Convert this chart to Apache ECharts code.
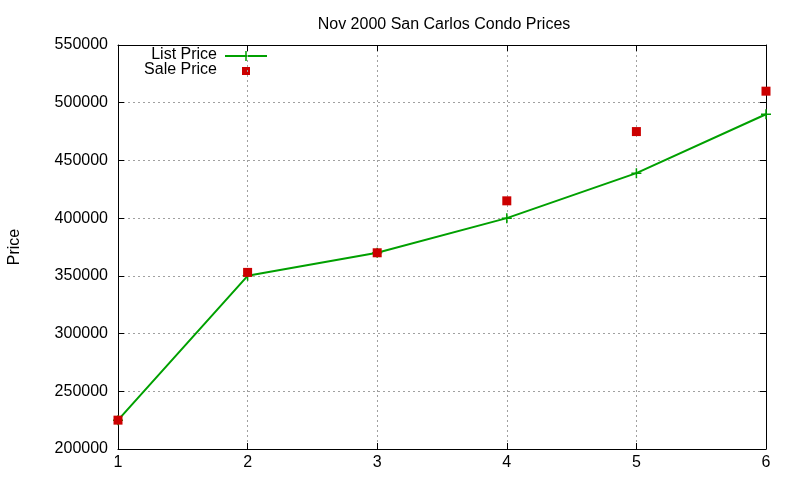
<!DOCTYPE html>
<html>
<head>
<meta charset="utf-8">
<script src="https://cdn.jsdelivr.net/npm/echarts@6/dist/echarts.min.js"></script>
<style>
  html, body { margin: 0; padding: 0; background: #fff; }
  #chart { width: 800px; height: 480px; }
</style>
</head>
<body>
<div id="chart"></div>
<script>
// data
var months = [1, 2, 3, 4, 5, 6];
var listPrice = [225000, 350000, 370000, 400000, 439000, 490000];
var salePrice = [225000, 353000, 370000, 415000, 475000, 510000];
var yTicks = [200000, 250000, 300000, 350000, 400000, 450000, 500000, 550000];

var green = '#00a000';
var red = '#cc0000';
var font = 'Liberation Sans, Arial, sans-serif';

var listData = months.map(function (m, i) { return [m, listPrice[i]]; });
var saleData = months.map(function (m, i) { return [m, salePrice[i]]; });

var plusSymbol = 'path://M0,4.25h10v1.5H0zM4.25,0h1.5v10h-1.5z';

var gridLine = { show: true, lineStyle: { color: '#a0a0a0', type: [2, 3], width: 1 } };
var axisLine = { show: true, lineStyle: { color: '#000', width: 1 } };
var tickIn = { show: true, inside: true, length: 6, lineStyle: { color: '#000' } };

var myChart = echarts.init(document.getElementById('chart'));
var options = {
    backgroundColor: '#fff',
    animation: false,
    title: {
        text: 'Nov 2000 San Carlos Condo Prices',
        left: 439, top: 12, textAlign: 'center',
        textStyle: { fontFamily: font, fontSize: 16, fontWeight: 'normal', color: '#000' }
    },
    grid: { left: 118, right: 34, top: 45, bottom: 31, containLabel: false, outerBoundsMode: 'none' },
    xAxis: [{
        type: 'value', min: 1, max: 6, interval: 1,
        axisLine: axisLine, axisTick: tickIn, splitLine: gridLine,
        axisLabel: { fontFamily: font, fontSize: 16, color: '#000', margin: 6 }
    }, {
        type: 'value', position: 'top', min: 1, max: 6, interval: 1,
        axisLine: axisLine, axisTick: tickIn, splitLine: { show: false },
        axisLabel: { show: false }
    }],
    yAxis: [{
        type: 'value', min: yTicks[0], max: yTicks[yTicks.length - 1], interval: 50000,
        name: 'Price', nameLocation: 'middle', nameGap: 95, nameRotate: 90,
        nameTextStyle: { fontFamily: font, fontSize: 16, color: '#000' },
        axisLine: axisLine, axisTick: tickIn, splitLine: gridLine,
        axisLabel: { fontFamily: font, fontSize: 16, color: '#000', margin: 10,
            formatter: function (v) { return String(v); } }
    }, {
        type: 'value', position: 'right', min: yTicks[0], max: yTicks[yTicks.length - 1], interval: 50000,
        axisLine: axisLine, axisTick: tickIn, splitLine: { show: false },
        axisLabel: { show: false }
    }],
    series: [{
        name: 'List Price',
        type: 'line',
        data: listData,
        symbol: plusSymbol,
        symbolSize: 10,
        showAllSymbol: true,
        lineStyle: { color: green, width: 2 },
        itemStyle: { color: green },
        z: 3
    }, {
        name: 'Sale Price',
        type: 'scatter',
        data: saleData,
        symbol: 'rect',
        symbolSize: 9,
        itemStyle: { color: red, opacity: 1 },
        z: 4
    }],
    graphic: [
        { type: 'text', right: 800 - 217, top: 47, style: { text: 'List Price', font: '16px ' + font, fill: '#000', textAlign: 'right' } },
        { type: 'line', shape: { x1: 225, y1: 56, x2: 267, y2: 56 }, style: { stroke: green, lineWidth: 2 } },
        { type: 'line', shape: { x1: 246, y1: 51, x2: 246, y2: 61 }, style: { stroke: green, lineWidth: 1.5 } },
        { type: 'text', right: 800 - 217, top: 62, style: { text: 'Sale Price', font: '16px ' + font, fill: '#000', textAlign: 'right' } },
        { type: 'rect', shape: { x: 242, y: 67, width: 8, height: 8 }, style: { fill: red } }
    ]
};
myChart.setOption(options);
</script>
</body>
</html>
